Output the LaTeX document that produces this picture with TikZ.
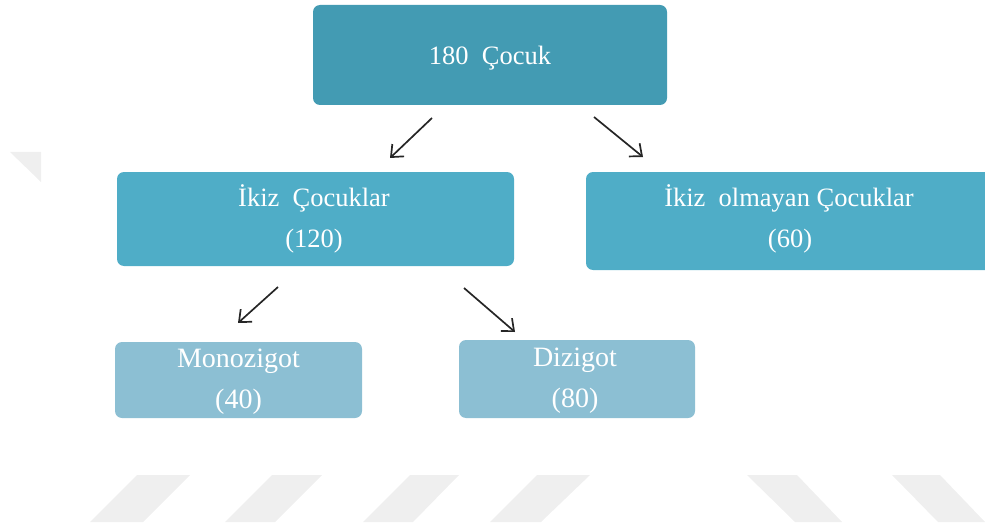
\documentclass[tikz,border=0pt]{standalone}
\usepackage{fontspec}
\setmainfont{Liberation Serif}
\usetikzlibrary{arrows.meta}
\definecolor{topc}{HTML}{439BB3}
\definecolor{midc}{HTML}{4FADC7}
\definecolor{lowc}{HTML}{8CBFD3}
\definecolor{wm}{HTML}{EFEFEF}
\tikzset{
  boxbase/.style={draw=none, rectangle, rounded corners=7pt, inner sep=0pt},
  topbox/.style={boxbase, fill=topc},
  midbox/.style={boxbase, fill=midc},
  lowbox/.style={boxbase, fill=lowc},
  txt/.style={anchor=base, inner sep=0pt, text=white, font=\fontsize{26.5}{30}\selectfont},
  lowtxt/.style={txt, font=\fontsize{28}{32}\selectfont},
  conn/.style={line width=1.7pt, draw=black!85, -{Straight Barb[length=10pt,width=17pt,line width=1.7pt]}},
  wmark/.style={fill=wm, draw=none}
}
\begin{document}
\begin{tikzpicture}[x=1pt,y=-1pt]
\useasboundingbox (0,0) rectangle (985,532);
% watermark
\fill[wmark] (10,152) -- (41,152) -- (41,182) -- cycle;
\fill[wmark] (137,475) -- (190,475) -- (143,522) -- (90,522) -- cycle;
\fill[wmark] (272,475) -- (322,475) -- (275,522) -- (225,522) -- cycle;
\fill[wmark] (410,475) -- (459,475) -- (413,522) -- (363,522) -- cycle;
\fill[wmark] (537,475) -- (590,475) -- (541,522) -- (490,522) -- cycle;
\fill[wmark] (747,475) -- (797,475) -- (842,522) -- (795,522) -- cycle;
\fill[wmark] (892,475) -- (940,475) -- (985,522) -- (938,522) -- cycle;
% boxes
\node[topbox, minimum width=354pt, minimum height=100pt] (root) at (490,55) {};
\node[midbox, minimum width=397pt, minimum height=94pt] (twins) at (315.5,219) {};
\node[midbox, minimum width=406pt, minimum height=98pt] (nontwins) at (789,221) {};
\node[lowbox, minimum width=247pt, minimum height=76pt] (mono) at (238.5,380) {};
\node[lowbox, minimum width=236pt, minimum height=78pt] (di) at (577,379) {};
% texts
\node[txt] (rootT) at (490,65) {180~ Çocuk};
\node[txt] (twinsT1) at (314,206) {İkiz~ Çocuklar};
\node[txt] (twinsT2) at (314,247) {(120)};
\node[txt] (nontwinsT1) at (789,206) {İkiz~ olmayan Çocuklar};
\node[txt] (nontwinsT2) at (790,247) {(60)};
\node[lowtxt] (monoT1) at (238.5,367) {Monozigot};
\node[lowtxt] (monoT2) at (238.5,408) {(40)};
\node[lowtxt] (diT1) at (575,366) {Dizigot};
\node[lowtxt] (diT2) at (575,407) {(80)};
% connectors
\coordinate (a1s) at (432,118); \coordinate (a1e) at (390,158);
\coordinate (a2s) at (594,117); \coordinate (a2e) at (643,157);
\coordinate (a3s) at (278,287); \coordinate (a3e) at (238,323);
\coordinate (a4s) at (464,288); \coordinate (a4e) at (515,332);
\draw[conn] (a1s) -- (a1e);
\draw[conn] (a2s) -- (a2e);
\draw[conn] (a3s) -- (a3e);
\draw[conn] (a4s) -- (a4e);
\end{tikzpicture}
\end{document}
